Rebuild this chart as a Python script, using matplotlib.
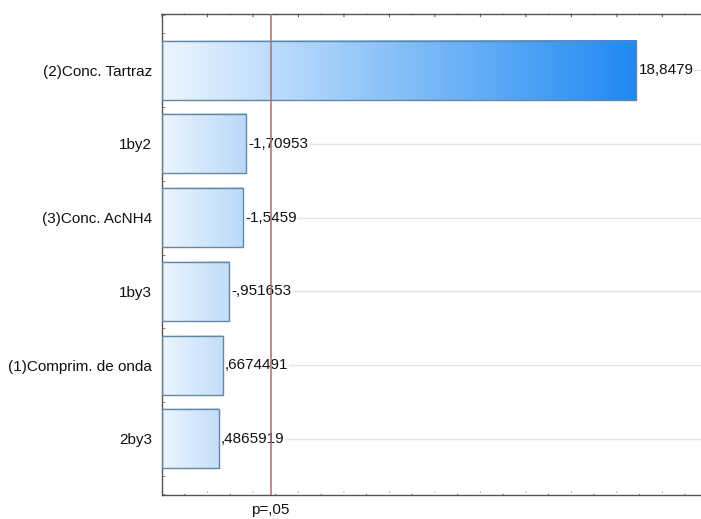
import numpy as np
import matplotlib.pyplot as plt
from matplotlib.colors import LinearSegmentedColormap, to_rgb
from matplotlib.patches import Rectangle
from matplotlib.ticker import MultipleLocator

plt.rcParams['font.family'] = ['Liberation Sans', 'DejaVu Sans']

factors = ['(2)Conc. Tartraz', '1by2', '(3)Conc. AcNH4', '1by3',
           '(1)Comprim. de onda', '2by3']
effects = [18.8479, -1.70953, -1.5459, -0.951653, 0.6674491, 0.4865919]
t_crit = 2.776  # p=.05
x_min, x_max = -2.0, 21.7


def fmt(v):
    s = repr(v).replace('.', ',')
    s = s.replace('-0,', '-,')
    if s.startswith('0,'):
        s = s[1:]
    return s


fig = plt.figure(figsize=(7.01, 5.19), dpi=100)
ax = fig.add_axes([162 / 701, 1 - 495 / 519, 539 / 701, 481 / 519])

pale = np.array(to_rgb('#ecf5fe'))
end_cmap = LinearSegmentedColormap.from_list('ends', ['#c8e1fa', '#1f89f2'])
mags = np.abs(effects)
h = 0.8
for i, (lab, v) in enumerate(zip(factors, effects)):
    m = abs(v)
    end = np.array(end_cmap(m / mags.max())[:3])
    t = np.linspace(0, 1, 256)[None, :, None]
    grad = pale + (end - pale) * t
    ax.imshow(grad, extent=[x_min, m, i + h / 2, i - h / 2], aspect='auto',
              interpolation='bilinear', zorder=2)
    ax.add_patch(Rectangle((x_min, i - h / 2), m - x_min, h, fill=False,
                           edgecolor='#67869f', lw=1.0, zorder=5))
    ax.axhline(i, color='#e4e4e4', lw=1.0, zorder=1)
    ax.text(m + 0.1, i, fmt(v), va='center', ha='left', fontsize=11,
            color='#111111', zorder=4,
            bbox=dict(facecolor='white', edgecolor='none', pad=0.5))

ax.axvline(t_crit, color='#b46a6a', lw=1.1, zorder=6)

ax.set_xlim(x_min, x_max)
ax.set_ylim(len(factors) - 1 + 0.76, -0.76)
ax.set_yticks(range(len(factors)))
ax.set_yticklabels(factors, fontsize=11, color='#111111')
ax.yaxis.set_minor_locator(MultipleLocator(0.25))
ax.set_xticks([t_crit])
ax.set_xticklabels(['p=,05'], fontsize=11, color='#111111')
ax.tick_params(axis='x', which='major', length=0, pad=6)
ax.tick_params(axis='y', which='major', direction='in', length=3,
               color='#555555', pad=7)
ax.tick_params(axis='y', which='minor', direction='in', length=2,
               color='#777777')

# inward ticks along the top and bottom of the frame
for xv in range(int(x_min), int(x_max) + 1):
    ln = 4 if xv % 2 == 0 else 2.5
    for yv, sgn in ((len(factors) - 1 + 0.76, -1), (-0.76, 1)):
        ax.annotate('', xy=(xv, yv), xycoords='data',
                    xytext=(0, sgn * -ln), textcoords='offset points',
                    arrowprops=dict(arrowstyle='-', color='#555555', lw=0.8),
                    annotation_clip=False)

for side in ('left', 'top', 'bottom'):
    ax.spines[side].set_color('#555555')
    ax.spines[side].set_linewidth(1.0)
ax.spines['right'].set_visible(False)

fig.savefig('out.png', dpi=100)
